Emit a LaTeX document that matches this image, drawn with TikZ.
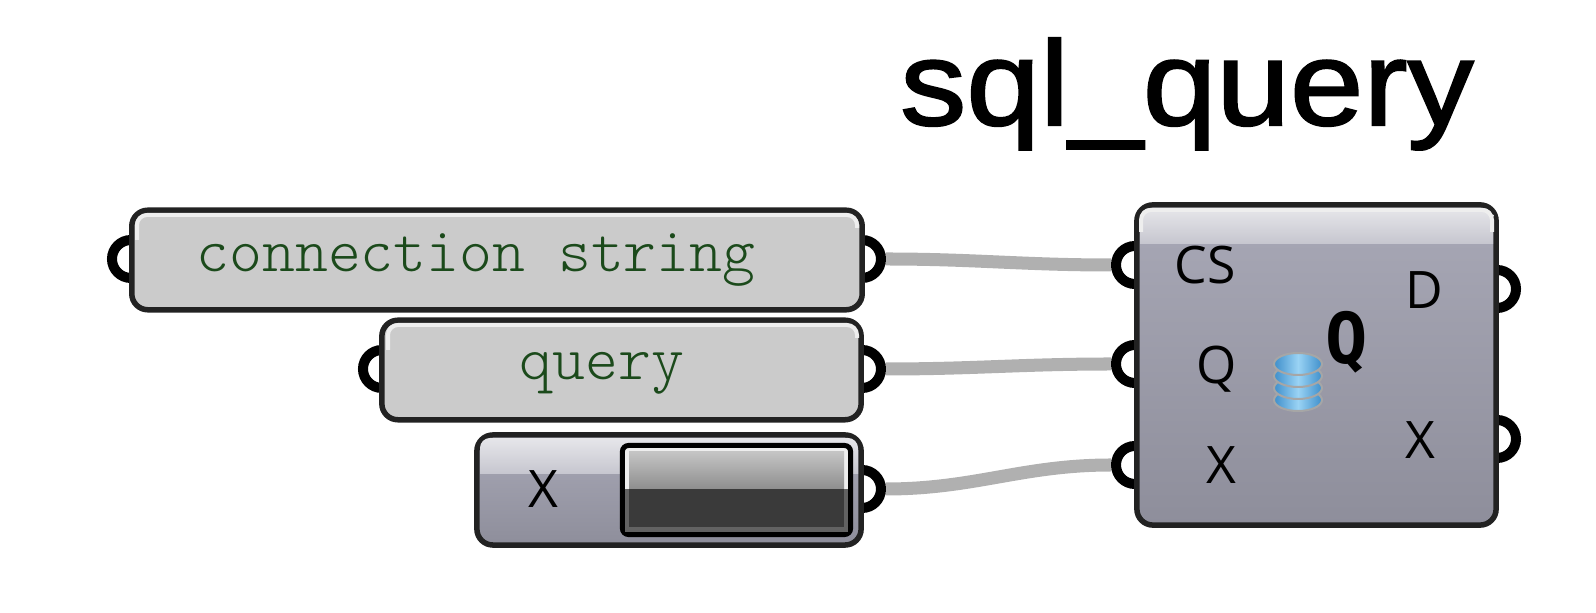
\documentclass[tikz,border=0pt]{standalone}
\usepackage{fontspec}
\usepackage{tikz}
\usetikzlibrary{positioning,calc}
\setmainfont{Liberation Sans}
\newfontfamily\titlefont[FakeBold=1.7, FakeStretch=1.1]{Liberation Sans}
\newfontfamily\labelfont{Open Sans}
\newfontfamily\iconfont{DejaVu Sans Mono}
\definecolor{edgegray}{HTML}{222222}
\definecolor{wiregray}{HTML}{B0B0B0}
\definecolor{panelgray}{HTML}{CBCBCB}
\definecolor{panelgreen}{HTML}{1B4A1B}
\definecolor{bodytop}{HTML}{A8A8B6}
\definecolor{bodybot}{HTML}{8E8E9B}
\definecolor{bandtop}{HTML}{E6E6EA}
\definecolor{bandbot}{HTML}{C6C6CF}
\definecolor{griplight}{HTML}{C4C4C4}
\definecolor{gripmid}{HTML}{8E8E8E}
\definecolor{gripdark}{HTML}{3A3A3A}
\definecolor{gripbase}{HTML}{626262}
\definecolor{gripedge}{HTML}{EEEEEE}
\definecolor{dbmid}{HTML}{9AD3F4}
\definecolor{dbside}{HTML}{3F8FCB}
\tikzset{
  port/.style={circle, draw=black, line width=0.10cm, fill=white, minimum size=0.38cm, inner sep=0pt},
  panel/.style={draw=edgegray, line width=0.055cm, fill=panelgray, rounded corners=0.16cm, inner sep=0pt},
  body/.style={draw=edgegray, line width=0.055cm, rounded corners=0.16cm, inner sep=0pt, top color=bodytop, bottom color=bodybot},
  wire/.style={draw=wiregray, line width=0.13cm},
  glow/.style={line width=0.04cm, rounded corners=0.1cm},
  tag/.style={font=\labelfont\fontsize{14.7}{16}\selectfont, text=black, inner sep=0pt},
  paneltext/.style={font=\ttfamily\fontseries{l}\fontsize{17.8}{20}\selectfont, text=panelgreen, anchor=base, inner sep=0pt}
}
\begin{document}
\begin{tikzpicture}[x=0.01cm, y=-0.01cm]
  \useasboundingbox (0,0) rectangle (1596,613);
  % Title
  \node[font=\titlefont\fontsize{34.2}{38}\selectfont, anchor=base, inner sep=0pt] (title) at (1187,125) {sql\_query};
  % Ports
  \node[port] (connIn) at (131,259) {};
  \node[port] (connOut) at (862,259) {};
  \node[port] (queryIn) at (382,369) {};
  \node[port] (queryOut) at (862,369) {};
  \node[port] (sliderOut) at (862,489) {};
  \node[port] (csIn) at (1135,265) {};
  \node[port] (qIn) at (1135,364) {};
  \node[port] (xIn) at (1135,465) {};
  \node[port] (dOut) at (1497,289) {};
  \node[port] (xOut) at (1497,439) {};
  % Wires
  \draw[wire] (connOut.east) to[out=0, in=180] (csIn.west);
  \draw[wire] (queryOut.east) to[out=0, in=180] (qIn.west);
  \draw[wire] (sliderOut.east) to[out=0, in=180] (xIn.west);
  % Connection string panel
  \node[panel, minimum width=7.30cm, minimum height=0.995cm] (conn) at (497,260) {};
  \draw[glow, draw=gripedge] (137,240) -- (137,215) -- (857,215) -- (857,228);
  \node[paneltext] (connText) at (476,272) {connection string};
  % Query panel
  \node[panel, minimum width=4.79cm, minimum height=0.995cm] (query) at (621.5,370) {};
  \draw[glow, draw=gripedge] (388,350) -- (388,325) -- (857,325) -- (857,338);
  \node[paneltext] (queryText) at (602,380) {query};
  % Number slider
  \node[body, minimum width=3.84cm, minimum height=1.10cm] (slider) at (669,490) {};
  \shade[top color=bandtop, bottom color=bandbot, rounded corners=0.1cm] (480,460) -- (480,438) -- (858,438) -- (858,460) [sharp corners] -- (858,474) -- (480,474) -- cycle;
  \node[tag] (sliderTag) at (543,489) {X};
  \node[draw=black, line width=0.05cm, fill=gripedge, rounded corners=0.06cm, minimum width=2.28cm, minimum height=0.89cm, inner sep=0pt] (grip) at (736.5,490) {};
  \shade[top color=griplight, bottom color=gripmid] (629,452) rectangle (844,489);
  \fill[gripbase] (625,489) rectangle (848,532);
  \fill[gripdark] (629,489) rectangle (844,527);
  % Component
  \node[body, minimum width=3.59cm, minimum height=3.20cm] (comp) at (1316.5,365) {};
  \shade[top color=bandtop, bottom color=bandbot, rounded corners=0.1cm] (1140,225) -- (1140,208) -- (1493,208) -- (1493,225) [sharp corners] -- (1493,244) -- (1140,244) -- cycle;
  \draw[glow, draw=gripedge] (1141,232) -- (1141,210) -- (1492,210) -- (1492,232);
  \node[tag] (csTag) at (1205,265) {CS};
  \node[tag] (qTag) at (1217,369) {Q};
  \node[tag] (xTag) at (1221,465) {X};
  \node[tag] (dTag) at (1424,290) {D};
  \node[tag] (xOutTag) at (1420,440) {X};
  % Icon
  \foreach \y in {400,388,376,364}
    \draw[draw=gray!70, line width=0.02cm, left color=dbside, right color=dbside, middle color=dbmid] (1298,\y) ellipse (24 and 11);
  \node[font=\iconfont\bfseries\fontsize{20}{22}\selectfont, inner sep=0pt] (iconQ) at (1347,342) {Q};
\end{tikzpicture}
\end{document}
